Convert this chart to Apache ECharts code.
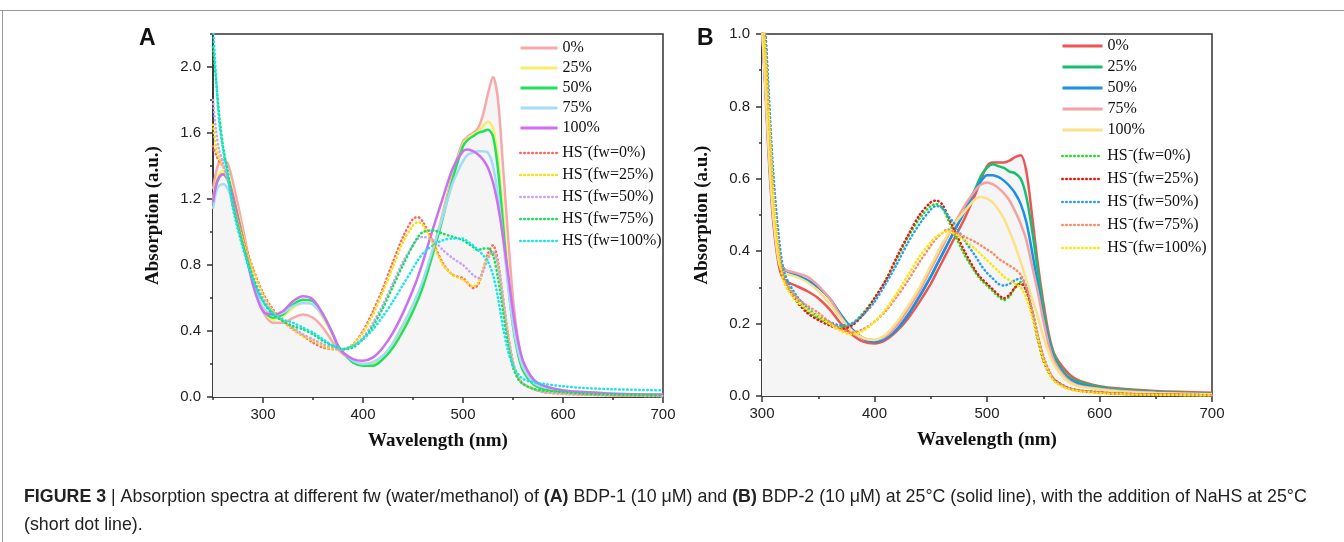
<!DOCTYPE html>
<html>
<head>
<meta charset="utf-8">
<script src="https://cdn.jsdelivr.net/npm/echarts@6/dist/echarts.min.js"></script>
<style>
  html, body { margin: 0; padding: 0; background: #fff; }
  #chart { width: 1344px; height: 542px; }
</style>
</head>
<body>
<div id="chart"></div>
<script>
// wavelength grids (nm)
var waveA = [250,253,256,260,265,270,280,290,300,310,320,330,340,350,360,370,375,380,390,400,410,420,430,440,450,455,460,470,480,490,500,505,510,515,520,525,530,535,540,545,550,555,560,570,580,600,620,650,700];
var waveB = [300,303,306,310,315,320,330,340,350,360,370,380,390,400,410,420,430,440,450,455,460,465,470,480,490,495,500,505,510,515,520,525,530,535,540,545,550,555,560,570,580,600,620,650,700];

// panel A, BDP-1, solid lines (fw)
var a0   = [1.26,1.36,1.42,1.44,1.41,1.30,1.02,0.72,0.52,0.45,0.45,0.48,0.50,0.48,0.42,0.33,0.29,0.26,0.22,0.20,0.21,0.25,0.32,0.42,0.54,0.61,0.69,0.89,1.12,1.36,1.55,1.58,1.60,1.63,1.71,1.84,1.94,1.80,1.40,0.98,0.60,0.35,0.21,0.10,0.06,0.03,0.02,0.012,0.008];
var a25  = [1.20,1.30,1.35,1.37,1.34,1.24,0.98,0.71,0.53,0.47,0.49,0.54,0.57,0.56,0.48,0.37,0.31,0.27,0.22,0.20,0.20,0.24,0.31,0.41,0.53,0.60,0.68,0.88,1.10,1.34,1.53,1.57,1.59,1.61,1.64,1.67,1.63,1.45,1.12,0.76,0.46,0.28,0.17,0.08,0.05,0.03,0.02,0.015,0.01];
var a50  = [1.17,1.28,1.33,1.35,1.31,1.21,0.96,0.70,0.53,0.48,0.50,0.56,0.59,0.58,0.50,0.38,0.31,0.27,0.21,0.19,0.19,0.23,0.30,0.40,0.52,0.59,0.67,0.87,1.09,1.33,1.52,1.56,1.58,1.60,1.61,1.62,1.58,1.38,1.05,0.70,0.43,0.26,0.16,0.08,0.05,0.03,0.02,0.015,0.01];
var a75  = [1.14,1.24,1.28,1.29,1.26,1.17,0.93,0.69,0.54,0.50,0.51,0.55,0.57,0.56,0.49,0.38,0.31,0.27,0.22,0.20,0.21,0.25,0.33,0.44,0.56,0.63,0.71,0.90,1.10,1.30,1.43,1.47,1.48,1.49,1.49,1.48,1.40,1.22,0.96,0.68,0.44,0.28,0.18,0.09,0.06,0.04,0.03,0.02,0.015];
var a100 = [1.18,1.28,1.33,1.35,1.32,1.22,0.95,0.68,0.52,0.50,0.52,0.58,0.61,0.59,0.50,0.38,0.31,0.27,0.23,0.22,0.24,0.30,0.39,0.51,0.65,0.73,0.82,1.02,1.21,1.39,1.49,1.50,1.49,1.47,1.44,1.39,1.30,1.16,0.97,0.75,0.52,0.34,0.22,0.11,0.07,0.04,0.03,0.02,0.015];
// panel A, with HS- (dotted)
var ah0   = [1.52,1.47,1.43,1.40,1.32,1.18,0.96,0.78,0.63,0.53,0.46,0.41,0.37,0.33,0.30,0.29,0.29,0.29,0.32,0.40,0.52,0.66,0.82,0.97,1.08,1.09,1.06,0.94,0.81,0.74,0.72,0.69,0.66,0.68,0.77,0.87,0.92,0.82,0.60,0.38,0.21,0.12,0.08,0.05,0.03,0.02,0.015,0.01,0.005];
var ah25  = [1.65,1.52,1.45,1.40,1.31,1.17,0.95,0.77,0.62,0.52,0.46,0.41,0.37,0.34,0.31,0.29,0.29,0.29,0.32,0.39,0.50,0.64,0.79,0.94,1.04,1.06,1.04,0.93,0.80,0.74,0.71,0.69,0.67,0.69,0.77,0.85,0.88,0.80,0.60,0.38,0.21,0.12,0.08,0.05,0.03,0.02,0.015,0.01,0.005];
var ah50  = [1.80,1.62,1.50,1.42,1.31,1.15,0.92,0.73,0.60,0.51,0.46,0.42,0.38,0.35,0.32,0.30,0.29,0.29,0.31,0.36,0.45,0.56,0.69,0.82,0.92,0.96,0.97,0.95,0.89,0.84,0.80,0.77,0.74,0.72,0.76,0.84,0.88,0.80,0.60,0.38,0.21,0.12,0.08,0.05,0.03,0.02,0.015,0.01,0.005];
var ah75  = [2.12,1.92,1.72,1.52,1.36,1.17,0.92,0.72,0.58,0.50,0.46,0.43,0.41,0.38,0.34,0.31,0.30,0.29,0.30,0.35,0.43,0.54,0.67,0.80,0.92,0.97,1.00,1.01,0.99,0.97,0.95,0.93,0.91,0.89,0.90,0.90,0.86,0.72,0.52,0.32,0.18,0.11,0.08,0.05,0.04,0.03,0.02,0.015,0.01];
var ah100 = [2.25,1.95,1.68,1.50,1.33,1.14,0.90,0.71,0.58,0.51,0.47,0.45,0.42,0.39,0.35,0.31,0.30,0.29,0.31,0.35,0.41,0.49,0.58,0.68,0.78,0.83,0.87,0.92,0.95,0.96,0.96,0.94,0.92,0.89,0.86,0.82,0.74,0.60,0.42,0.28,0.19,0.14,0.11,0.09,0.08,0.065,0.055,0.047,0.04];

// panel B, BDP-2, solid lines (fw)
var b0   = [1.02,0.85,0.66,0.48,0.36,0.32,0.305,0.29,0.27,0.24,0.20,0.17,0.15,0.145,0.155,0.18,0.215,0.26,0.31,0.34,0.37,0.40,0.43,0.49,0.56,0.60,0.635,0.645,0.645,0.645,0.65,0.66,0.665,0.62,0.50,0.37,0.26,0.17,0.115,0.07,0.045,0.027,0.02,0.014,0.009];
var b25  = [1.02,0.86,0.68,0.50,0.38,0.35,0.335,0.32,0.30,0.27,0.225,0.185,0.16,0.15,0.16,0.185,0.225,0.275,0.33,0.36,0.39,0.42,0.45,0.51,0.575,0.61,0.63,0.64,0.635,0.63,0.62,0.615,0.60,0.55,0.46,0.35,0.24,0.16,0.11,0.06,0.04,0.025,0.018,0.012,0.006];
var b50  = [1.02,0.86,0.68,0.50,0.38,0.35,0.335,0.32,0.30,0.27,0.225,0.185,0.158,0.15,0.16,0.185,0.225,0.275,0.33,0.36,0.39,0.42,0.45,0.51,0.57,0.595,0.61,0.61,0.605,0.595,0.58,0.56,0.53,0.48,0.40,0.31,0.22,0.15,0.10,0.055,0.035,0.022,0.015,0.01,0.005];
var b75  = [1.02,0.86,0.68,0.50,0.38,0.35,0.34,0.33,0.305,0.27,0.22,0.18,0.16,0.155,0.165,0.195,0.24,0.29,0.35,0.38,0.41,0.44,0.47,0.525,0.57,0.585,0.59,0.585,0.575,0.56,0.54,0.51,0.475,0.43,0.36,0.29,0.21,0.14,0.095,0.05,0.03,0.02,0.014,0.009,0.005];
var b100 = [1.02,0.86,0.68,0.50,0.37,0.34,0.33,0.315,0.29,0.255,0.215,0.18,0.16,0.155,0.17,0.205,0.25,0.30,0.36,0.39,0.42,0.445,0.47,0.51,0.545,0.55,0.545,0.535,0.515,0.49,0.455,0.415,0.37,0.32,0.27,0.22,0.165,0.12,0.085,0.045,0.028,0.018,0.012,0.008,0.004];
// panel B, with HS- (dotted)
var bh0   = [1.10,1.00,0.82,0.60,0.42,0.33,0.27,0.235,0.215,0.20,0.19,0.20,0.23,0.27,0.32,0.38,0.44,0.49,0.525,0.53,0.52,0.49,0.455,0.39,0.34,0.32,0.305,0.29,0.275,0.265,0.275,0.30,0.315,0.29,0.23,0.16,0.10,0.065,0.045,0.025,0.016,0.01,0.006,0.004,0.002];
var bh25  = [1.10,1.00,0.80,0.58,0.41,0.32,0.265,0.23,0.21,0.195,0.185,0.195,0.225,0.27,0.32,0.385,0.445,0.50,0.535,0.54,0.53,0.50,0.465,0.40,0.345,0.325,0.31,0.295,0.28,0.27,0.28,0.30,0.31,0.29,0.23,0.16,0.10,0.065,0.045,0.025,0.016,0.01,0.006,0.004,0.002];
var bh50  = [1.10,1.00,0.84,0.62,0.44,0.34,0.28,0.245,0.22,0.205,0.195,0.20,0.225,0.26,0.31,0.365,0.425,0.475,0.515,0.525,0.52,0.50,0.48,0.43,0.385,0.36,0.34,0.325,0.31,0.305,0.31,0.32,0.325,0.30,0.24,0.17,0.11,0.07,0.045,0.025,0.016,0.01,0.006,0.004,0.002];
var bh75  = [1.10,0.95,0.78,0.57,0.40,0.32,0.275,0.25,0.23,0.205,0.185,0.175,0.185,0.205,0.235,0.275,0.32,0.37,0.415,0.435,0.45,0.46,0.455,0.44,0.425,0.415,0.405,0.395,0.38,0.37,0.36,0.35,0.335,0.30,0.24,0.17,0.11,0.07,0.045,0.025,0.016,0.01,0.006,0.004,0.002];
var bh100 = [1.10,0.95,0.78,0.56,0.39,0.31,0.265,0.24,0.22,0.20,0.18,0.17,0.18,0.205,0.24,0.285,0.335,0.385,0.425,0.44,0.45,0.455,0.45,0.43,0.405,0.39,0.375,0.36,0.345,0.33,0.32,0.31,0.30,0.27,0.22,0.16,0.10,0.065,0.04,0.022,0.014,0.008,0.005,0.003,0.002];

var fwNames = ['0%', '25%', '50%', '75%', '100%'];
var hsNames = ['HS⁻(fw=0%)', 'HS⁻(fw=25%)', 'HS⁻(fw=50%)', 'HS⁻(fw=75%)', 'HS⁻(fw=100%)'];

var colorsA   = ['#f7a9a9', '#f6ee6a', '#1ee25c', '#a6dbf7', '#cc6ff0'];
var colorsAhs = ['#ff6464', '#ffdc00', '#c8a2f6', '#12e05e', '#12e6f0'];
var colorsB   = ['#ef5454', '#14c070', '#1a8fe6', '#f6a0a0', '#fde08a'];
var colorsBhs = ['#22e022', '#f01414', '#2a9ef0', '#ff8a62', '#ffe600'];

var xTicksA = [300, 400, 500, 600, 700];
var xMinorA = [250, 350, 450, 550, 650];
var xTicksB = [300, 400, 500, 600, 700];
var xMinorB = [350, 450, 550, 650];
var yTicksA = [0, 0.4, 0.8, 1.2, 1.6, 2.0];
var yMinorA = [0.2, 0.6, 1.0, 1.4, 1.8, 2.2];
var yTicksB = [0, 0.2, 0.4, 0.6, 0.8, 1.0];
var yMinorB = [0.1, 0.3, 0.5, 0.7, 0.9];

function pairs(w, v) {
  var out = [];
  for (var i = 0; i < w.length; i++) out.push([w[i], v[i]]);
  return out;
}

var SERIF = '"Liberation Serif", "Times New Roman", serif';
var SANS = '"Liberation Sans", Arial, sans-serif';

function mkLine(prefix, name, wave, vals, color, dotted, gi, fill) {
  var s = {
    name: prefix + name,
    type: 'line',
    xAxisIndex: gi * 2,
    yAxisIndex: gi * 2,
    data: pairs(wave, vals),
    smooth: 0.3,
    symbol: 'none',
    clip: true,
    lineStyle: dotted
      ? { color: color, width: 2.5, type: [0.5, 3.5], cap: 'round' }
      : { color: color, width: 2.5 },
    itemStyle: { color: color }
  };
  if (fill) s.areaStyle = { color: '#f5f5f5', opacity: 1 };
  return s;
}

var series = [];
var solidA = [a0, a25, a50, a75, a100];
var hsA = [ah0, ah25, ah50, ah75, ah100];
var solidB = [b0, b25, b50, b75, b100];
var hsB = [bh0, bh25, bh50, bh75, bh100];
for (var i = 0; i < 5; i++) series.push(mkLine('A:', fwNames[i], waveA, solidA[i], colorsA[i], false, 0, i === 0));
for (var i = 0; i < 5; i++) series.push(mkLine('A:', hsNames[i], waveA, hsA[i], colorsAhs[i], true, 0, false));
for (var i = 0; i < 5; i++) series.push(mkLine('B:', fwNames[i], waveB, solidB[i], colorsB[i], false, 1, i === 0));
for (var i = 0; i < 5; i++) series.push(mkLine('B:', hsNames[i], waveB, hsB[i], colorsBhs[i], true, 1, false));
// draw the filled 0% series first, the other lines on top
series.sort(function (p, q) { return (q.areaStyle ? 1 : 0) - (p.areaStyle ? 1 : 0); });

function xAxes(gi, min, max, major, minor) {
  return [{
    type: 'value', gridIndex: gi, min: min, max: max, position: 'bottom',
    name: 'Wavelength (nm)', nameLocation: 'middle', nameGap: 35,
    nameTextStyle: { fontFamily: SERIF, fontWeight: 'bold', fontSize: 19, color: '#111' },
    axisLine: { lineStyle: { color: '#333', width: 1.5 } },
    axisTick: { customValues: major, length: 6, lineStyle: { color: '#333', width: 1.5 } },
    axisLabel: { customValues: major, margin: 10, fontFamily: SANS, fontSize: 15, color: '#222' },
    splitLine: { show: false }
  }, {
    type: 'value', gridIndex: gi, min: min, max: max, position: 'bottom',
    axisLine: { show: false },
    axisTick: { customValues: minor, length: 3, lineStyle: { color: '#333', width: 1.5 } },
    axisLabel: { show: false },
    splitLine: { show: false }
  }];
}

function yAxes(gi, max, major, minor) {
  return [{
    type: 'value', gridIndex: gi, min: 0, max: max, position: 'left',
    name: 'Absorption (a.u.)', nameLocation: 'middle', nameGap: 50, nameRotate: 90,
    nameTextStyle: { fontFamily: SERIF, fontWeight: 'bold', fontSize: 19, color: '#111' },
    axisLine: { lineStyle: { color: '#333', width: 1.5 } },
    axisTick: { customValues: major, length: 6, lineStyle: { color: '#333', width: 1.5 } },
    axisLabel: { customValues: major, margin: 12, fontFamily: SANS, fontSize: 15, color: '#222',
      formatter: function (v) { return v.toFixed(1); } },
    splitLine: { show: false }
  }, {
    type: 'value', gridIndex: gi, min: 0, max: max, position: 'left',
    axisLine: { show: false },
    axisTick: { customValues: minor, length: 3, lineStyle: { color: '#333', width: 1.5 } },
    axisLabel: { show: false },
    splitLine: { show: false }
  }];
}

function legend(prefix, names, left, top, gap, width, lw) {
  return {
    left: left, top: top, orient: 'vertical', padding: 0,
    itemGap: gap, itemWidth: width, itemHeight: 14,
    selectedMode: false,
    data: names.map(function (n) { return prefix + n; }),
    formatter: function (n) { return n.slice(2); },
    lineStyle: { width: lw },
    itemStyle: { opacity: 0 },
    textStyle: { fontFamily: SERIF, fontSize: 16, color: '#111', lineHeight: 16 }
  };
}

var caption = '{b|FIGURE 3} | Absorption spectra at different fw (water/methanol) of {b|(A)} BDP-1 (10 μM) and {b|(B)} BDP-2 (10 μM) at 25°C (solid line), with the addition of NaHS at 25°C';
var CAPFONT = '"Liberation Sans", Arial, sans-serif';

var chart = echarts.init(document.getElementById('chart'));
chart.setOption({
  animation: false,
  backgroundColor: '#fff',
  grid: [
    { left: 213, top: 34, width: 450, height: 363, show: true, borderColor: '#333', borderWidth: 1.5, backgroundColor: 'transparent' },
    { left: 762, top: 34, width: 450, height: 362, show: true, borderColor: '#333', borderWidth: 1.5, backgroundColor: 'transparent' }
  ],
  xAxis: xAxes(0, 250, 700, xTicksA, xMinorA).concat(xAxes(1, 300, 700, xTicksB, xMinorB)),
  yAxis: yAxes(0, 2.2, yTicksA, yMinorA).concat(yAxes(1, 1.0, yTicksB, yMinorB)),
  legend: [
    legend('A:', fwNames, 519, 40, 4, 37, 3),
    legend('A:', hsNames, 519, 145, 6, 37, 2.5),
    legend('B:', fwNames, 1061, 38, 5, 40, 3),
    legend('B:', hsNames, 1061, 148, 7, 40, 2.5)
  ],
  series: series,
  graphic: [
    { type: 'line', shape: { x1: 0, y1: 10.5, x2: 1344, y2: 10.5 }, style: { stroke: '#999', lineWidth: 1 } },
    { type: 'line', shape: { x1: 2.5, y1: 10, x2: 2.5, y2: 542 }, style: { stroke: '#999', lineWidth: 1 } },
    { type: 'text', left: 139, top: 27, style: { text: 'A', font: 'bold 23px ' + SANS, fill: '#111' } },
    { type: 'text', left: 697, top: 27, style: { text: 'B', font: 'bold 23px ' + SANS, fill: '#111' } },
    { type: 'text', x: 24, y: 497, scaleX: 0.937, style: {
        text: caption, font: '19px ' + CAPFONT, fill: '#222', verticalAlign: 'middle',
        rich: { b: { fontWeight: 'bold', fontFamily: CAPFONT, fontSize: 19, fill: '#222' } } } },
    { type: 'text', x: 24, y: 525, scaleX: 0.937, style: { text: '(short dot line).', font: '19px ' + CAPFONT, fill: '#222', verticalAlign: 'middle' } }
  ]
});
</script>
</body>
</html>
